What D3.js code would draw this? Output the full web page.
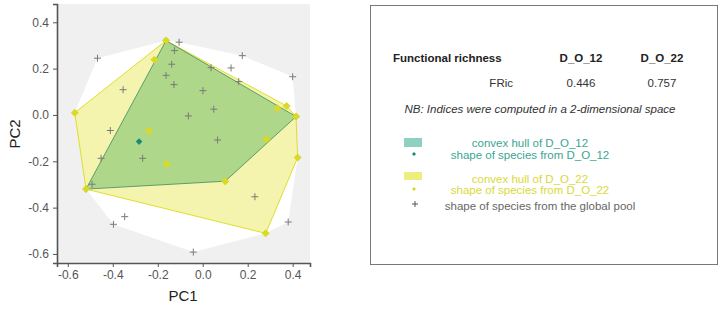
<!DOCTYPE html>
<html>
<head>
<meta charset="utf-8">
<script src="https://cdn.jsdelivr.net/npm/d3@7"></script>
<style>
  html, body { margin: 0; padding: 0; background: #ffffff; }
  svg { display: block; font-family: "Liberation Sans", Arial, sans-serif; }
</style>
</head>
<body>
<svg id="chart" width="720" height="312"></svg>
<script>
// ---------------- data ----------------
const globalPool = [
  [-0.468, 0.245], [-0.105, 0.314], [-0.126, 0.278], [-0.138, 0.219], [-0.163, 0.171],
  [-0.128, 0.131], [-0.354, 0.109], [-0.411, -0.067], [0.176, 0.256], [0.126, 0.203],
  [0.037, 0.204], [0.400, 0.165], [0.160, 0.144], [0.001, 0.105], [0.049, 0.025],
  [-0.064, -0.004], [0.066, -0.108], [-0.452, -0.187], [-0.267, -0.187], [-0.492, -0.299],
  [-0.347, -0.439], [-0.397, -0.472], [0.232, -0.353], [0.380, -0.462], [-0.042, -0.592]
];
const speciesDO12 = [
  [-0.163, 0.321], [-0.283, -0.115], [-0.519, -0.320], [0.100, -0.286],
  [0.284, -0.105], [0.415, -0.007]
];
const speciesDO22 = [
  [-0.163, 0.321], [-0.215, 0.238], [-0.569, 0.010], [-0.239, -0.068], [0.332, 0.029],
  [0.373, 0.039], [0.415, -0.007], [0.284, -0.105], [-0.519, -0.320], [-0.160, -0.212],
  [0.100, -0.286], [0.422, -0.184], [0.280, -0.511]
];
const xTicks = [-0.6, -0.4, -0.2, 0.0, 0.2, 0.4];
const yTicks = [-0.6, -0.4, -0.2, 0.0, 0.2, 0.4];
const assemblages = ["D_O_12", "D_O_22"];
const fricValues = [0.446, 0.757];
const legendLabels = [
  "convex hull of D_O_12", "shape of species from D_O_12",
  "convex hull of D_O_22", "shape of species from D_O_22",
  "shape of species from the global pool"
];

// ---------------- styles ----------------
const colTeal = "#1fa187";
const colYellow = "#e2e22a";
const colPoolGray = "#7a7a7a";

const svg = d3.select("#chart");

const x = d3.scaleLinear().domain([-0.648, 0.477]).range([57, 310]);
const y = d3.scaleLinear().domain([-0.639, 0.479]).range([263, 4]);

// panel background
svg.append("rect").attr("x", 57).attr("y", 4).attr("width", 253).attr("height", 259)
  .attr("fill", "#f0f0f0");

const line = d3.line().x(d => x(d[0])).y(d => y(d[1]));

// global pool hull (white)
const allPts = globalPool.concat(speciesDO12, speciesDO22);
const hullGlobal = d3.polygonHull(allPts);
svg.append("path").attr("d", line(hullGlobal) + "Z").attr("fill", "#ffffff");

// assemblage hulls
const hull12 = d3.polygonHull(speciesDO12);
const hull22 = d3.polygonHull(speciesDO22);
svg.append("path").attr("d", line(hull12) + "Z")
  .attr("fill", colTeal).attr("fill-opacity", 0.5).attr("stroke", "none");
svg.append("path").attr("d", line(hull22) + "Z")
  .attr("fill", colYellow).attr("fill-opacity", 0.38)
  .attr("stroke", "#dede30").attr("stroke-width", 1);
svg.append("path").attr("d", line(hull12) + "Z")
  .attr("fill", "none").attr("stroke", "#3f8a5e").attr("stroke-width", 0.8);

// global pool points "+"
svg.append("g").selectAll("path").data(globalPool).join("path")
  .attr("transform", d => `translate(${x(d[0])},${y(d[1])})`)
  .attr("d", "M-3.5,0H3.5M0,-3.5V3.5")
  .attr("stroke", colPoolGray).attr("stroke-width", 1).attr("fill", "none");

// species points (square diamonds)
const dia = r => `M0,${-r}L${r},0L0,${r}L${-r},0Z`;
svg.append("g").selectAll("path").data(speciesDO12).join("path")
  .attr("transform", d => `translate(${x(d[0])},${y(d[1])})`)
  .attr("d", dia(3.3))
  .attr("fill", "#1b8a76");
svg.append("g").selectAll("path").data(speciesDO22).join("path")
  .attr("transform", d => `translate(${x(d[0])},${y(d[1])})`)
  .attr("d", dia(4))
  .attr("fill", "#dada26");

// axes
const fmt = d => d.toFixed(1);
const gx = svg.append("g").attr("transform", "translate(0,263)")
  .call(d3.axisBottom(x).tickValues(xTicks).tickFormat(fmt).tickSizeOuter(0).tickSize(4).tickPadding(3));
const gy = svg.append("g").attr("transform", "translate(57,0)")
  .call(d3.axisLeft(y).tickValues(yTicks).tickFormat(fmt).tickSizeOuter(0).tickSize(4).tickPadding(4));
[gx, gy].forEach(g => {
  g.select(".domain").attr("stroke", "#555").attr("stroke-width", 1.6);
  g.selectAll(".tick line").attr("stroke", "#555").attr("stroke-width", 1);
  g.selectAll(".tick text").attr("fill", "#555").attr("font-size", 12)
    .attr("font-family", "Liberation Sans, Arial, sans-serif");
});

svg.append("text").attr("x", 183).attr("y", 301).attr("text-anchor", "middle")
  .attr("font-size", 15).attr("fill", "#222").text("PC1");
svg.append("text").attr("transform", "translate(20,134) rotate(-90)")
  .attr("text-anchor", "middle").attr("font-size", 15).attr("fill", "#222").text("PC2");

// ---------------- legend / table panel ----------------
svg.append("rect").attr("x", 370.5).attr("y", 5.5).attr("width", 347).attr("height", 259)
  .attr("fill", "#fff").attr("stroke", "#777").attr("stroke-width", 1);

const fs = 11.5;
const colX = [581, 662];
svg.append("text").attr("x", 393).attr("y", 62).attr("font-size", fs)
  .attr("font-weight", "bold").attr("fill", "#222").text("Functional richness");
svg.selectAll(".hdr").data(assemblages).join("text")
  .attr("x", (d, i) => colX[i]).attr("y", 62).attr("text-anchor", "middle")
  .attr("font-size", fs).attr("font-weight", "bold").attr("fill", "#222").text(d => d);
svg.append("text").attr("x", 513).attr("y", 87).attr("text-anchor", "end")
  .attr("font-size", fs).attr("fill", "#333").text("FRic");
svg.selectAll(".val").data(fricValues).join("text")
  .attr("x", (d, i) => colX[i]).attr("y", 87).attr("text-anchor", "middle")
  .attr("font-size", fs).attr("fill", "#333").text(d => d.toFixed(3));
svg.append("text").attr("x", 540).attr("y", 113).attr("text-anchor", "middle")
  .attr("font-size", fs).attr("font-style", "italic").attr("fill", "#333")
  .text("NB: Indices were computed in a 2-dimensional space");

// legend keys
svg.append("rect").attr("x", 404).attr("y", 138).attr("width", 18).attr("height", 9)
  .attr("fill", colTeal).attr("fill-opacity", 0.5);
svg.append("path").attr("transform", "translate(414,154)").attr("d", dia(2))
  .attr("fill", "#1b8a76");
svg.append("rect").attr("x", 404).attr("y", 172).attr("width", 18).attr("height", 8)
  .attr("fill", colYellow).attr("fill-opacity", 0.6);
svg.append("path").attr("transform", "translate(414,189)").attr("d", dia(2))
  .attr("fill", "#dada26");
svg.append("path").attr("transform", "translate(415,204)").attr("d", "M-3,0H3M0,-3V3")
  .attr("stroke", "#555").attr("stroke-width", 1);

const legendPos = [[530, 146.5, "#3aa594"], [530, 159, "#3aa594"], [530, 183, "#d9d93a"],
                   [530, 194, "#d9d93a"], [540, 210, "#666"]];
svg.selectAll(".lg").data(legendLabels).join("text")
  .attr("x", (d, i) => legendPos[i][0]).attr("y", (d, i) => legendPos[i][1])
  .attr("text-anchor", "middle").attr("font-size", fs)
  .attr("fill", (d, i) => legendPos[i][2]).text(d => d);
</script>
</body>
</html>
